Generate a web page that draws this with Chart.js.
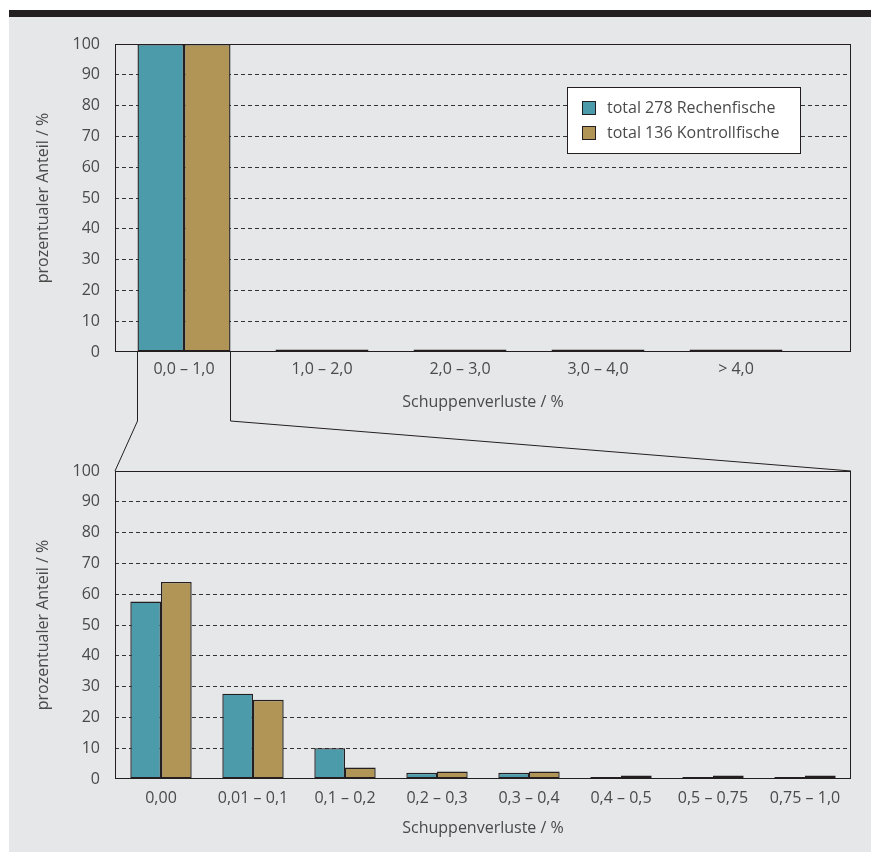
<!DOCTYPE html>
<html>
<head>
<meta charset="utf-8">
<script src="https://cdn.jsdelivr.net/npm/chart.js@4"></script>
<style>
  body { margin: 0; background: #ffffff; }
  #band { position: absolute; left: 9px; top: 10px; width: 862px; height: 7px; background: #231f20; }
  #panel { position: absolute; left: 9px; top: 17px; width: 862px; height: 835px; background: #e6e7e8; }
  canvas { position: absolute; left: 0; }
  #c1 { top: 0; }
  #c2 { top: 430px; }
  #overlay { top: 0; pointer-events: none; }
</style>
</head>
<body>
<div id="band"></div>
<div id="panel"></div>
<canvas id="c1" width="871" height="430"></canvas>
<canvas id="c2" width="871" height="422"></canvas>
<canvas id="overlay" width="871" height="852"></canvas>
<script>
// data
var seriesNames = ['total 278 Rechenfische', 'total 136 Kontrollfische'];
var topCategories = ['0,0 – 1,0', '1,0 – 2,0', '2,0 – 3,0', '3,0 – 4,0', '> 4,0'];
var topRechen = [100, 0.8, 0.8, 0.8, 0.8];
var topKontroll = [100, 0.8, 0.8, 0.8, 0.8];
var bottomCategories = ['0,00', '0,01 – 0,1', '0,1 – 0,2', '0,2 – 0,3', '0,3 – 0,4', '0,4 – 0,5', '0,5 – 0,75', '0,75 – 1,0'];
var bottomRechen = [57.6, 27.7, 10, 2.0, 2.0, 0.4, 0.4, 0.4];
var bottomKontroll = [64, 25.7, 3.7, 2.4, 2.4, 1.1, 1.1, 1.1];
var yTicks = [0, 10, 20, 30, 40, 50, 60, 70, 80, 90, 100];

var teal = '#4b9bab';
var gold = '#b09557';
var ink = '#231f20';
var textCol = '#4a4a4a';
var fontFamily = '"Open Sans", sans-serif';

Chart.defaults.font.family = fontFamily;
Chart.defaults.color = textCol;

var framePlugin = {
  id: 'frame',
  afterDatasetsDraw: function(chart) {
    var a = chart.chartArea, ctx = chart.ctx;
    ctx.save();
    ctx.strokeStyle = ink;
    ctx.lineWidth = 1;
    ctx.strokeRect(Math.round(a.left) + 0.5, Math.round(a.top) + 0.5,
      Math.round(a.right - a.left) - 1, Math.round(a.bottom - a.top) - 1);
    ctx.restore();
  }
};

// the top chart's categories only use part of the plot width;
// the axis title stays centred on the whole plot
var shortAxisPlugin = {
  id: 'shortAxis',
  afterLayout: function(chart, args, opts) {
    var s = chart.scales.x;
    var right = s.right, width = s.width;
    s.right = s.left + opts.width;
    s.width = opts.width;
    s.configure();
    s.right = right;
    s.width = width;
  }
};

var legendPlugin = {
  id: 'boxLegend',
  afterDraw: function(chart) {
    var a = chart.chartArea, ctx = chart.ctx;
    var x = a.left + 452, y = a.top + 43, w = 233, h = 66;
    ctx.save();
    ctx.fillStyle = '#ffffff';
    ctx.fillRect(x, y, w, h);
    ctx.strokeStyle = ink;
    ctx.lineWidth = 1;
    ctx.strokeRect(x + 0.5, y + 0.5, w, h);
    ctx.font = '16px ' + fontFamily;
    ctx.textBaseline = 'middle';
    chart.data.datasets.forEach(function(ds, i) {
      var cy = y + 21 + i * 25;
      ctx.fillStyle = ds.backgroundColor;
      ctx.fillRect(x + 15, cy - 7, 14, 14);
      ctx.strokeRect(x + 15.5, cy - 6.5, 13, 13);
      ctx.fillStyle = textCol;
      ctx.fillText(ds.label, x + 40, cy);
    });
    ctx.restore();
  }
};

function makeChart(id, labels, a, b, opts) {
  var plugins = [framePlugin];
  if (opts.legend) plugins.push(legendPlugin);
  if (opts.axisWidth) plugins.push(shortAxisPlugin);
  return new Chart(document.getElementById(id), {
    type: 'bar',
    data: {
      labels: labels,
      datasets: [
        { label: seriesNames[0], data: a, backgroundColor: teal, borderColor: ink },
        { label: seriesNames[1], data: b, backgroundColor: gold, borderColor: ink }
      ]
    },
    options: {
      responsive: false,
      animation: false,
      events: [],
      layout: { padding: { left: 0, right: 20, top: opts.top, bottom: 0 } },
      datasets: { bar: { barPercentage: 1, categoryPercentage: opts.cat, borderWidth: 1.4,
                         borderSkipped: false, minBarLength: 2 } },
      plugins: {
        legend: { display: false },
        tooltip: { enabled: false },
        shortAxis: { width: opts.axisWidth || 0 }
      },
      scales: {
        x: {
          grid: { display: false, drawTicks: false },
          border: { display: false },
          ticks: { padding: opts.tickPad, font: { size: 16 }, color: textCol, maxRotation: 0 },
          title: { display: true, text: 'Schuppenverluste / %', font: { size: 16 }, color: textCol,
                   padding: { top: opts.titlePad, bottom: opts.titlePad } },
          afterFit: function(s) { s.height = opts.xHeight; }
        },
        y: {
          min: 0, max: 100,
          afterBuildTicks: function(s) { s.ticks = yTicks.map(function(v) { return { value: v }; }); },
          grid: {
            color: function(c) { return (c.tick && (c.tick.value === 0 || c.tick.value === 100)) ? 'rgba(0,0,0,0)' : '#333333'; },
            lineWidth: 1, drawTicks: false
          },
          border: { display: false, dash: [4, 3] },
          ticks: { padding: 15, font: { size: 16 }, color: textCol },
          title: { display: true, text: 'prozentualer Anteil / %', font: { size: 16 }, color: textCol,
                   padding: { top: 34, bottom: 0 } },
          afterFit: function(s) { s.width = 115; }
        }
      }
    },
    plugins: plugins
  });
}

var chart1 = makeChart('c1', topCategories, topRechen, topKontroll,
  { top: 44, cat: 0.674, tickPad: 8, titlePad: 18, xHeight: 78, legend: true, axisWidth: 690 });
var chart2 = makeChart('c2', bottomCategories, bottomRechen, bottomKontroll,
  { top: 41, cat: 0.667, tickPad: 10, titlePad: 14, xHeight: 73, legend: false });

// connecting lines from the first top group to the bottom chart
(function() {
  var ctx = document.getElementById('overlay').getContext('2d');
  var off2 = 430;
  var b0 = chart1.getDatasetMeta(0).data[0];
  var b1 = chart1.getDatasetMeta(1).data[0];
  var xl = Math.round(b0.x - b0.width / 2) + 0.5;
  var xr = Math.round(b1.x + b1.width / 2) - 0.5;
  var y0 = chart1.chartArea.bottom;
  var yk = y0 + 69;
  var a2 = chart2.chartArea;
  ctx.strokeStyle = ink;
  ctx.lineWidth = 1;
  ctx.beginPath();
  ctx.moveTo(xl, y0); ctx.lineTo(xl, yk); ctx.lineTo(a2.left, a2.top + off2);
  ctx.moveTo(xr, y0); ctx.lineTo(xr, yk); ctx.lineTo(a2.right, a2.top + off2);
  ctx.stroke();
})();
</script>
</body>
</html>
